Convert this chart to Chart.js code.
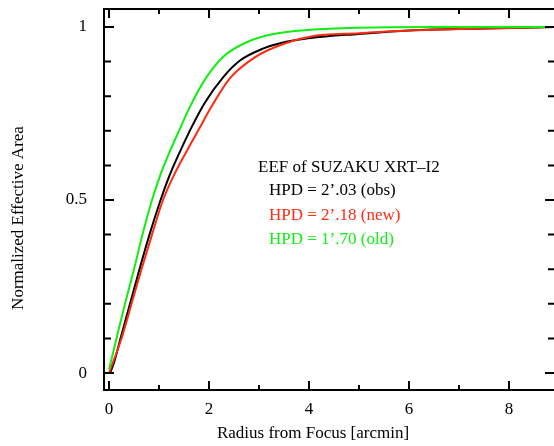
<!DOCTYPE html>
<html>
<head>
<meta charset="utf-8">
<script src="https://cdn.jsdelivr.net/npm/chart.js@4.4.0/dist/chart.umd.min.js"></script>
<style>
  html, body { margin: 0; padding: 0; background: #fff; }
  #wrap { width: 554px; height: 446px; }
</style>
</head>
<body>
<div id="wrap"><canvas id="chart"></canvas></div>
<script>
// EEF curves (radius in arcmin, normalized area)
const obsX = [0.02, 0.1, 0.23, 0.42, 0.61, 0.81, 1.02, 1.2, 1.42, 1.65, 1.92, 2.29, 2.62, 3.09, 3.42, 4.02, 5.0, 6.0, 7.5, 9.0];
const obsY = [0, 0.03, 0.1, 0.2, 0.3, 0.4, 0.495, 0.567, 0.64, 0.71, 0.782, 0.856, 0.903, 0.938, 0.953, 0.968, 0.98, 0.99, 0.996, 1.0];

const newX = [0.0, 0.25, 0.45, 0.65, 0.86, 1.08, 1.3, 1.55, 1.8, 2.05, 2.42, 2.82, 3.29, 4.02, 5.0, 6.0, 7.5, 9.0];
const newY = [0, 0.1, 0.2, 0.3, 0.4, 0.5, 0.572, 0.64, 0.705, 0.77, 0.852, 0.903, 0.94, 0.972, 0.982, 0.99, 0.996, 1.0];

const oldX = [0.0, 0.15, 0.32, 0.5, 0.67, 0.86, 1.02, 1.2, 1.4, 1.62, 1.95, 2.29, 2.75, 3.29, 4.02, 5.0, 6.5, 9.0];
const oldY = [0.01, 0.1, 0.2, 0.3, 0.4, 0.5, 0.57, 0.635, 0.7, 0.77, 0.855, 0.915, 0.956, 0.98, 0.992, 0.998, 1.0, 1.0];

const xTickLabels = [0, 2, 4, 6, 8];
const yTickLabels = [0, 0.5, 1];

const legendLines = [
  { text: 'EEF of SUZAKU XRT\u2013I2', color: '#000', x: 2.98, y: 0.595 },
  { text: 'HPD = 2\u2019.03 (obs)', color: '#000', x: 3.2, y: 0.527 },
  { text: 'HPD = 2\u2019.18 (new)', color: '#ff2a10', x: 3.2, y: 0.456 },
  { text: 'HPD = 1\u2019.70 (old)', color: '#11ee11', x: 3.2, y: 0.387 }
];

const FONT = '"Liberation Serif", "Times New Roman", serif';

function pts(xs, ys) {
  return xs.map((x, i) => ({ x, y: ys[i] }));
}

// frame, inward ticks, axis titles and the text block
const framePlugin = {
  id: 'frame',
  afterDraw(chart) {
    const { ctx, chartArea: a, scales: { x, y } } = chart;
    ctx.save();
    ctx.strokeStyle = '#000';
    ctx.lineWidth = 2;
    ctx.beginPath();
    ctx.moveTo(a.right + 2, a.top);
    ctx.lineTo(a.left, a.top);
    ctx.lineTo(a.left, a.bottom);
    ctx.lineTo(a.right + 2, a.bottom);
    ctx.stroke();

    ctx.beginPath();
    for (let v = 0; v <= 8; v++) {
      const px = x.getPixelForValue(v);
      const len = v % 2 === 0 ? 9 : 5;
      ctx.moveTo(px, a.bottom); ctx.lineTo(px, a.bottom - len);
      ctx.moveTo(px, a.top); ctx.lineTo(px, a.top + len);
    }
    for (let i = 0; i <= 10; i++) {
      const py = y.getPixelForValue(i / 10);
      const len = i % 5 === 0 ? 10 : 7;
      ctx.moveTo(a.left, py); ctx.lineTo(a.left + len, py);
      ctx.moveTo(a.right + 1, py); ctx.lineTo(a.right + 1 - len, py);
    }
    ctx.stroke();

    ctx.font = '17px ' + FONT;
    ctx.textBaseline = 'middle';
    ctx.textAlign = 'left';
    legendLines.forEach(l => {
      ctx.fillStyle = l.color;
      ctx.fillText(l.text, x.getPixelForValue(l.x), y.getPixelForValue(l.y));
    });

    ctx.fillStyle = '#000';
    ctx.textAlign = 'center';
    ctx.fillText('Radius from Focus [arcmin]', 313, 434);
    ctx.translate(19, 218);
    ctx.rotate(-Math.PI / 2);
    ctx.fillText('Normalized Effective Area', 0, 0);
    ctx.restore();
  }
};

function lineSet(label, data, color) {
  return {
    label,
    data,
    borderColor: color,
    borderWidth: 2,
    pointRadius: 0,
    fill: false,
    cubicInterpolationMode: 'monotone'
  };
}

new Chart(document.getElementById('chart'), {
  type: 'line',
  data: {
    datasets: [
      lineSet('old', pts(oldX, oldY), '#11ee11'),
      lineSet('new', pts(newX, newY), '#ff2a10'),
      lineSet('obs', pts(obsX, obsY), '#000')
    ]
  },
  options: {
    responsive: true,
    maintainAspectRatio: false,
    animation: false,
    layout: { padding: { top: 9, left: 0, right: 0, bottom: 0 } },
    plugins: { legend: { display: false }, tooltip: { enabled: false } },
    scales: {
      x: {
        type: 'linear',
        min: -0.1,
        max: 8.9,
        grid: { display: false, drawTicks: false },
        border: { display: false },
        afterBuildTicks: s => { s.ticks = xTickLabels.map(v => ({ value: v })); },
        afterFit: s => { s.height = 56; s.paddingLeft = 0; s.paddingRight = 0; },
        ticks: {
          padding: 9,
          color: '#000',
          font: { family: FONT, size: 17 },
          maxRotation: 0,
          callback: v => String(v)
        }
      },
      y: {
        type: 'linear',
        min: -0.049,
        max: 1.052,
        grid: { display: false, drawTicks: false },
        border: { display: false },
        afterBuildTicks: s => { s.ticks = yTickLabels.map(v => ({ value: v })); },
        afterFit: s => { s.width = 104; s.paddingTop = 0; s.paddingBottom = 0; },
        ticks: {
          padding: 17,
          color: '#000',
          font: { family: FONT, size: 17 },
          callback: v => String(v)
        }
      }
    }
  },
  plugins: [framePlugin]
});
</script>
</body>
</html>
